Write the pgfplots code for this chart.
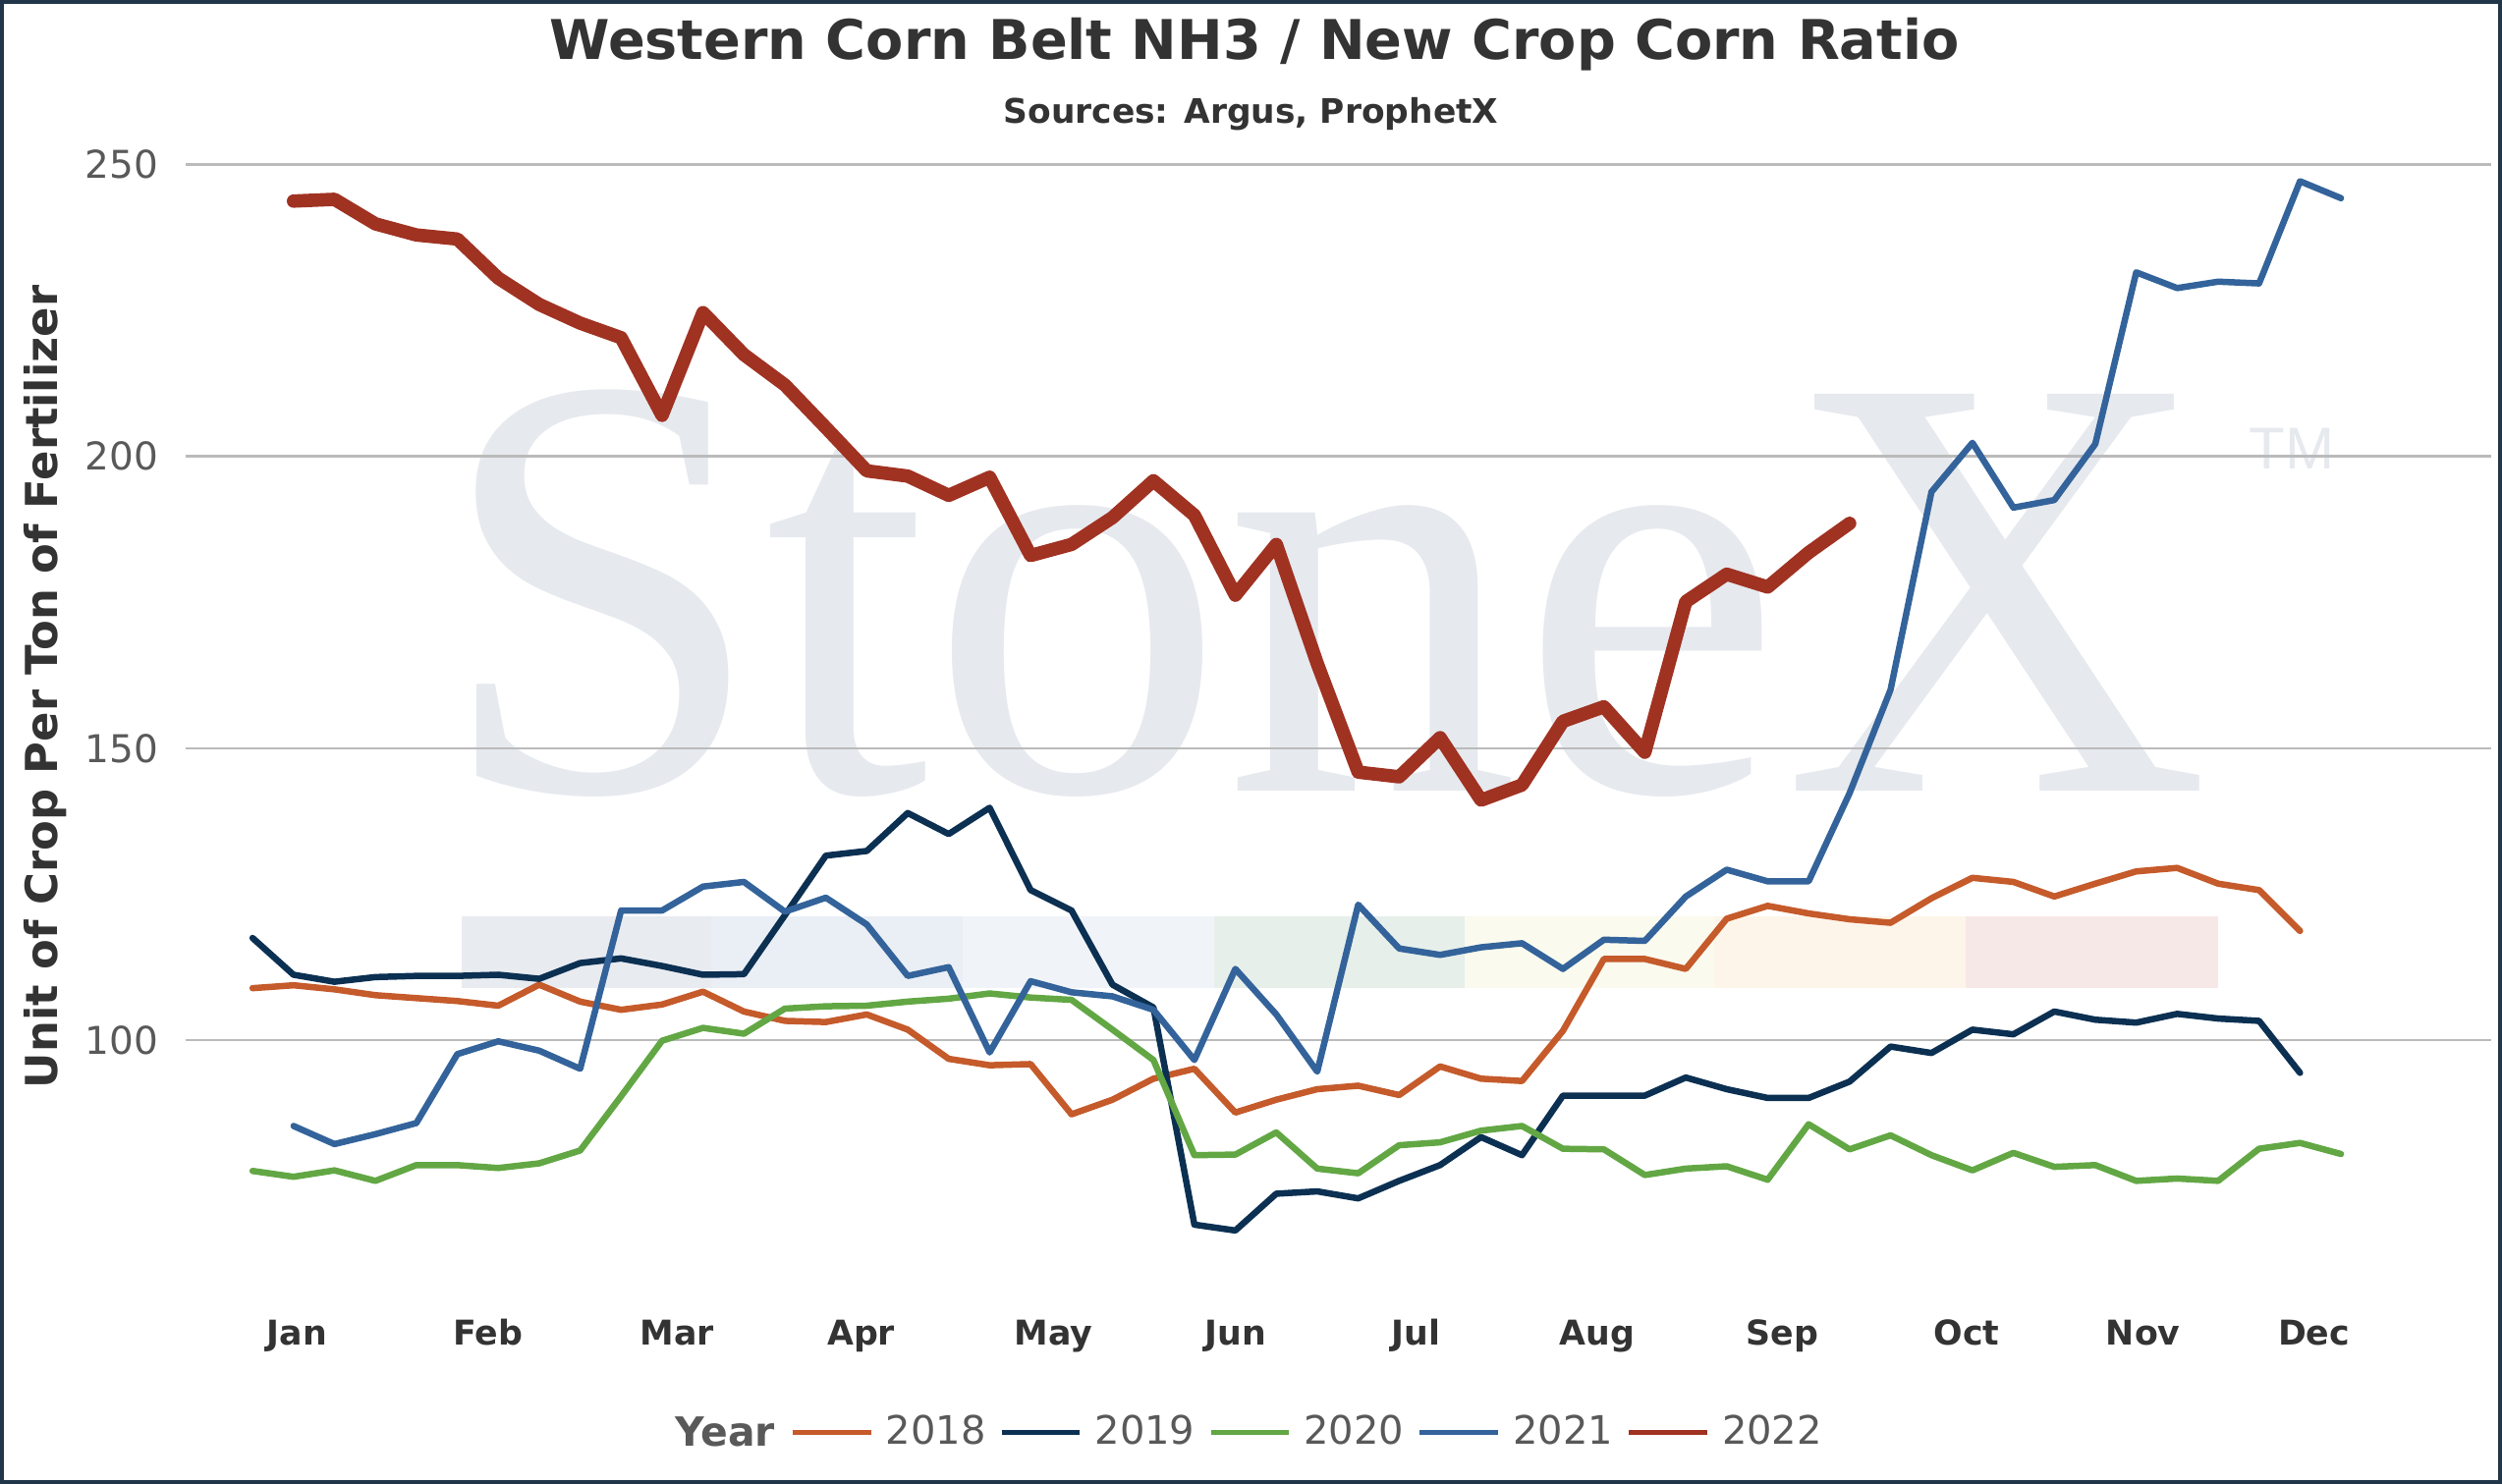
\documentclass[border=0pt]{standalone}
\usepackage{fontspec}
\setmainfont{DejaVu Sans}
\newfontfamily\wmfont{Liberation Serif}
\newfontfamily\tmfont{Liberation Sans}
\usepackage{graphicx}
\usepackage{pgfplots}
\pgfplotsset{compat=1.18}
\definecolor{c2018}{HTML}{C55A2B}
\definecolor{c2019}{HTML}{0B3052}
\definecolor{c2020}{HTML}{62A744}
\definecolor{c2021}{HTML}{33639A}
\definecolor{c2022}{HTML}{A03222}
\definecolor{gridc}{HTML}{BBBBBB}
\definecolor{txtdark}{HTML}{333333}
\definecolor{txtgray}{HTML}{595959}
\definecolor{wmc}{HTML}{E6E9EE}
\definecolor{bandA}{HTML}{E8EBF0}
\definecolor{bandB}{HTML}{EAEEF5}
\definecolor{bandC}{HTML}{F0F4F8}
\definecolor{bandD}{HTML}{E6EFE9}
\definecolor{bandE}{HTML}{FAFAEE}
\definecolor{bandF}{HTML}{FDF5E9}
\definecolor{bandG}{HTML}{F7E8E8}
\definecolor{framec}{HTML}{22364A}
\begin{document}
\begin{tikzpicture}
\begin{axis}[
  set layers,
  at={(58.2pt,47.6pt)}, anchor=south west,
  width=722.3pt, height=366pt, scale only axis,
  xmin=-1.632, xmax=54.66, ymin=50, ymax=250,
  axis line style={draw=none},
  major tick length=0pt,
  /pgf/number format/assume math mode=true,
  ytick={100,150,200,250}, yticklabels={100,150,200,250},
  ymajorgrids, grid style={color=gridc, line width=0.8pt},
  xtick={1.09,5.75,10.37,14.86,19.56,24.0,28.41,32.84,37.36,41.86,46.17,50.34},
  xticklabels={Jan,Feb,Mar,Apr,May,Jun,Jul,Aug,Sep,Oct,Nov,Dec},
  xticklabel style={font=\bfseries\fontsize{10.7}{12}\selectfont, text=txtdark, anchor=base, yshift=-4.2pt, inner sep=0pt},
  yticklabel style={font=\fontsize{12}{14}\selectfont, text=txtgray, anchor=east, inner sep=0pt, xshift=-8.4pt},
  legend columns=-1,
  legend style={
    at={(0.2623,-0.0858)}, anchor=west,
    draw=none, fill=none, inner sep=0pt, outer sep=0pt,
    font=\fontsize{12.3}{14.8}\selectfont, text=txtgray,
    nodes={inner sep=0pt},
    /tikz/every odd column/.style={column sep=4pt},
    /tikz/every even column/.style={column sep=4.25pt},
  },
  legend image code/.code={\draw[#1, line width=1.45pt, line cap=butt] (0pt,0pt) -- (24.5pt,0pt);},
  every axis plot/.append style={line join=round, line cap=round, mark=none},
]
\pgfplotsextra{%
\begin{pgfonlayer}{axis background}
  \fill[bandA] (axis cs:5.10,109.0) rectangle (axis cs:11.19,121.2);
  \fill[bandB] (axis cs:11.19,109.0) rectangle (axis cs:17.34,121.2);
  \fill[bandC] (axis cs:17.34,109.0) rectangle (axis cs:23.48,121.2);
  \fill[bandD] (axis cs:23.48,109.0) rectangle (axis cs:29.60,121.2);
  \fill[bandE] (axis cs:29.60,109.0) rectangle (axis cs:35.70,121.2);
  \fill[bandF] (axis cs:35.70,109.0) rectangle (axis cs:41.83,121.2);
  \fill[bandG] (axis cs:41.83,109.0) rectangle (axis cs:47.99,121.2);
  \node[anchor=base west, inner sep=0pt, text=wmc, font=\wmfont\fontsize{190}{190}\selectfont] at (axis cs:4.47,142.6) {\scalebox{0.975}[1]{StoneX}};
  \node[anchor=base west, inner sep=0pt, text=wmc, font=\tmfont\fontsize{18.5}{20}\selectfont] at (axis cs:48.75,197.8) {TM};
\end{pgfonlayer}}

\addplot[c2018, line width=2pt] coordinates {
(0,108.9) (1,109.4) (2,108.7) (3,107.7) (4,107.2) (5,106.7) (6,105.9) (7,109.5) (8,106.6) (9,105.2)
(10,106.1) (11,108.3) (12,104.9) (13,103.3) (14,103.1) (15,104.4) (16,101.8) (17,96.8) (18,95.7) (19,95.9)
(20,87.3) (21,89.8) (22,93.4) (23,95.1) (24,87.6) (25,89.8) (26,91.6) (27,92.2) (28,90.6) (29,95.5)
(30,93.4) (31,93.0) (32,101.6) (33,113.9) (34,113.9) (35,112.2) (36,120.8) (37,123.0) (38,121.7) (39,120.7)
(40,120.1) (41,124.3) (42,127.8) (43,127.1) (44,124.6) (45,126.8) (46,128.9) (47,129.5) (48,126.8) (49,125.7)
(50,118.7)};
\addlegendentry{2018}

\addplot[c2019, line width=2pt] coordinates {
(0,117.5) (1,111.2) (2,110.0) (3,110.8) (4,111.0) (5,111.0) (6,111.2) (7,110.5) (8,113.2) (9,114.0)
(10,112.7) (11,111.2) (12,111.3) (13,121.4) (14,131.6) (15,132.4) (16,138.9) (17,135.3) (18,139.8) (19,125.7)
(20,122.2) (21,109.5) (22,105.6) (23,68.4) (24,67.4) (25,73.7) (26,74.1) (27,72.9) (28,75.9) (29,78.6)
(30,83.4) (31,80.3) (32,90.5) (33,90.5) (34,90.5) (35,93.6) (36,91.6) (37,90.1) (38,90.1) (39,92.9)
(40,98.9) (41,97.8) (42,101.8) (43,101.0) (44,104.9) (45,103.5) (46,103.0) (47,104.5) (48,103.7) (49,103.3)
(50,94.4)};
\addlegendentry{2019}

\addplot[c2020, line width=2pt] coordinates {
(0,77.6) (1,76.6) (2,77.7) (3,75.9) (4,78.6) (5,78.6) (6,78.1) (7,78.9) (8,81.1) (9,90.4)
(10,99.9) (11,102.1) (12,101.1) (13,105.4) (14,105.8) (15,105.9) (16,106.6) (17,107.1) (18,108.0) (19,107.3)
(20,106.9) (21,101.8) (22,96.6) (23,80.3) (24,80.4) (25,84.2) (26,78.0) (27,77.2) (28,82.0) (29,82.5)
(30,84.5) (31,85.3) (32,81.4) (33,81.3) (34,76.9) (35,78.0) (36,78.4) (37,76.1) (38,85.6) (39,81.3)
(40,83.7) (41,80.3) (42,77.7) (43,80.7) (44,78.3) (45,78.6) (46,75.9) (47,76.3) (48,75.9) (49,81.4)
(50,82.4) (51,80.5)};
\addlegendentry{2020}

\addplot[c2021, line width=2pt] coordinates {
(1,85.3) (2,82.2) (3,83.9) (4,85.8) (5,97.6) (6,99.8) (7,98.2) (8,95.1) (9,122.2)
(10,122.2) (11,126.3) (12,127.1) (13,122.0) (14,124.4) (15,119.8) (16,111.0) (17,112.5) (18,97.9) (19,110.1)
(20,108.2) (21,107.5) (22,105.2) (23,96.6) (24,112.2) (25,104.4) (26,94.6) (27,123.2) (28,115.7) (29,114.6)
(30,115.9) (31,116.6) (32,112.2) (33,117.2) (34,117.0) (35,124.6) (36,129.2) (37,127.2) (38,127.2) (39,142.3)
(40,160.0) (41,193.9) (42,202.3) (43,191.2) (44,192.5) (45,202.1) (46,231.5) (47,228.8) (48,229.9) (49,229.6)
(50,247.1) (51,244.2)};
\addlegendentry{2021}

\addplot[c2022, line width=4.2pt] coordinates {
(1,243.7) (2,244.0) (3,239.8) (4,237.9) (5,237.2) (6,230.5) (7,226.0) (8,222.8) (9,220.3)
(10,207.0) (11,224.6) (12,217.4) (13,212.2) (14,204.9) (15,197.5) (16,196.6) (17,193.3) (18,196.4) (19,183.0)
(20,184.9) (21,189.5) (22,195.8) (23,189.9) (24,176.2) (25,184.9) (26,164.5) (27,145.9) (28,145.1) (29,151.8)
(30,141.1) (31,143.7) (32,154.6) (33,157.1) (34,149.3) (35,175.1) (36,179.8) (37,177.6) (38,183.5) (39,188.5)};
\addlegendentry{2022}
\end{axis}
\node[anchor=base, inner sep=0pt, text=txtdark, font=\bfseries\fontsize{17.15}{20}\selectfont] at (393.1pt,446.6pt) {Western Corn Belt NH3 / New Crop Corn Ratio};
\node[anchor=base, inner sep=0pt, text=txtdark, font=\bfseries\fontsize{10.6}{12}\selectfont] at (392pt,426.6pt) {Sources: Argus, ProphetX};
\node[rotate=90, anchor=base, inner sep=0pt, text=txtdark, font=\bfseries\fontsize{13.8}{16}\selectfont] at (18pt,249.8pt) {Unit of Crop Per Ton of Fertilizer};
\node[anchor=base east, inner sep=0pt, text=txtgray, font=\bfseries\fontsize{12.6}{15}\selectfont] at (243pt,11.8pt) {Year};
\draw[framec, line width=1.3pt] (0.65pt,0.65pt) rectangle (783.35pt,464.45pt);
\pgfresetboundingbox
\path[use as bounding box] (0pt,0pt) rectangle (784pt,465.1pt);
\end{tikzpicture}
\end{document}
